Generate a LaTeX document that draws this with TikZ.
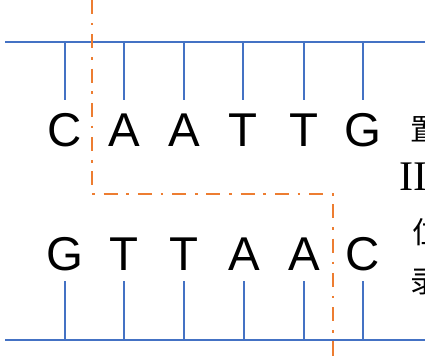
\documentclass[tikz,border=0pt]{standalone}
\usepackage{fontspec}
\setmainfont{Liberation Sans}
\newfontfamily\cjk{Noto Sans CJK SC}
\newfontfamily\romanfont{Liberation Serif}
\definecolor{strandblue}{RGB}{68,114,196}
\definecolor{cutorange}{RGB}{237,125,49}
\begin{document}
\begin{tikzpicture}[x=0.02cm,y=-0.02cm,
  strand/.style={draw=strandblue,line width=1.6pt},
  bond/.style={draw=strandblue,line width=1.6pt},
  base/.style={inner sep=0,font=\fontsize{27}{30}\selectfont},
  cutline/.style={draw=cutorange,line width=1.4pt,
    dash pattern=on 8pt off 5pt on 1.5pt off 5pt},
  side/.style={inner sep=0,anchor=west,font=\cjk\fontsize{17}{19}\selectfont}]
  \useasboundingbox (0,0) rectangle (425,360);
  \clip (0,0) rectangle (425,360);
  % backbones
  \coordinate (t0) at (5,42);
  \coordinate (t1) at (425,42);
  \coordinate (b0) at (5,340);
  \coordinate (b1) at (425,340);
  \draw[strand] (t0) -- (t1);
  \draw[strand] (b0) -- (b1);
  % upper strand bases
  \node[base] (u1) at (65,130) {C};
  \node[base] (u2) at (124,130) {A};
  \node[base] (u3) at (184,130) {A};
  \node[base] (u4) at (243,130) {T};
  \node[base] (u5) at (304,130) {T};
  \node[base] (u6) at (363,130) {G};
  % lower strand bases
  \node[base] (l1) at (65,254) {G};
  \node[base] (l2) at (124,254) {T};
  \node[base] (l3) at (184,254) {T};
  \node[base] (l4) at (244,254) {A};
  \node[base] (l5) at (304,254) {A};
  \node[base] (l6) at (363,254) {C};
  % bonds to the backbones
  \draw[bond] (u1.north |- t0) -- (65,100);
  \draw[bond] (u2.north |- t0) -- (124,100);
  \draw[bond] (u3.north |- t0) -- (184,100);
  \draw[bond] (u4.north |- t0) -- (243,100);
  \draw[bond] (u5.north |- t0) -- (304,100);
  \draw[bond] (u6.north |- t0) -- (363,100);
  \draw[bond] (l1.south |- b0) -- (65,281);
  \draw[bond] (l2.south |- b0) -- (124,281);
  \draw[bond] (l3.south |- b0) -- (184,281);
  \draw[bond] (l4.south |- b0) -- (244,281);
  \draw[bond] (l5.south |- b0) -- (304,281);
  \draw[bond] (l6.south |- b0) -- (363,281);
  % cut site
  \coordinate (c0) at (92,0);
  \coordinate (c1) at (92,194);
  \coordinate (c2) at (333,194);
  \coordinate (c3) at (333,360);
  \draw[cutline] (c0) -- (c1) -- (c2) -- (c3);
  % side notes
  \node[side] (n1) at (410,129) {置};
  \node[side] (n2) at (399,177) {\romanfont\fontsize{24}{26}\selectfont II};
  \node[side] (n3) at (412,232) {位};
  \node[side] (n4) at (410,282) {录};
\end{tikzpicture}
\end{document}
